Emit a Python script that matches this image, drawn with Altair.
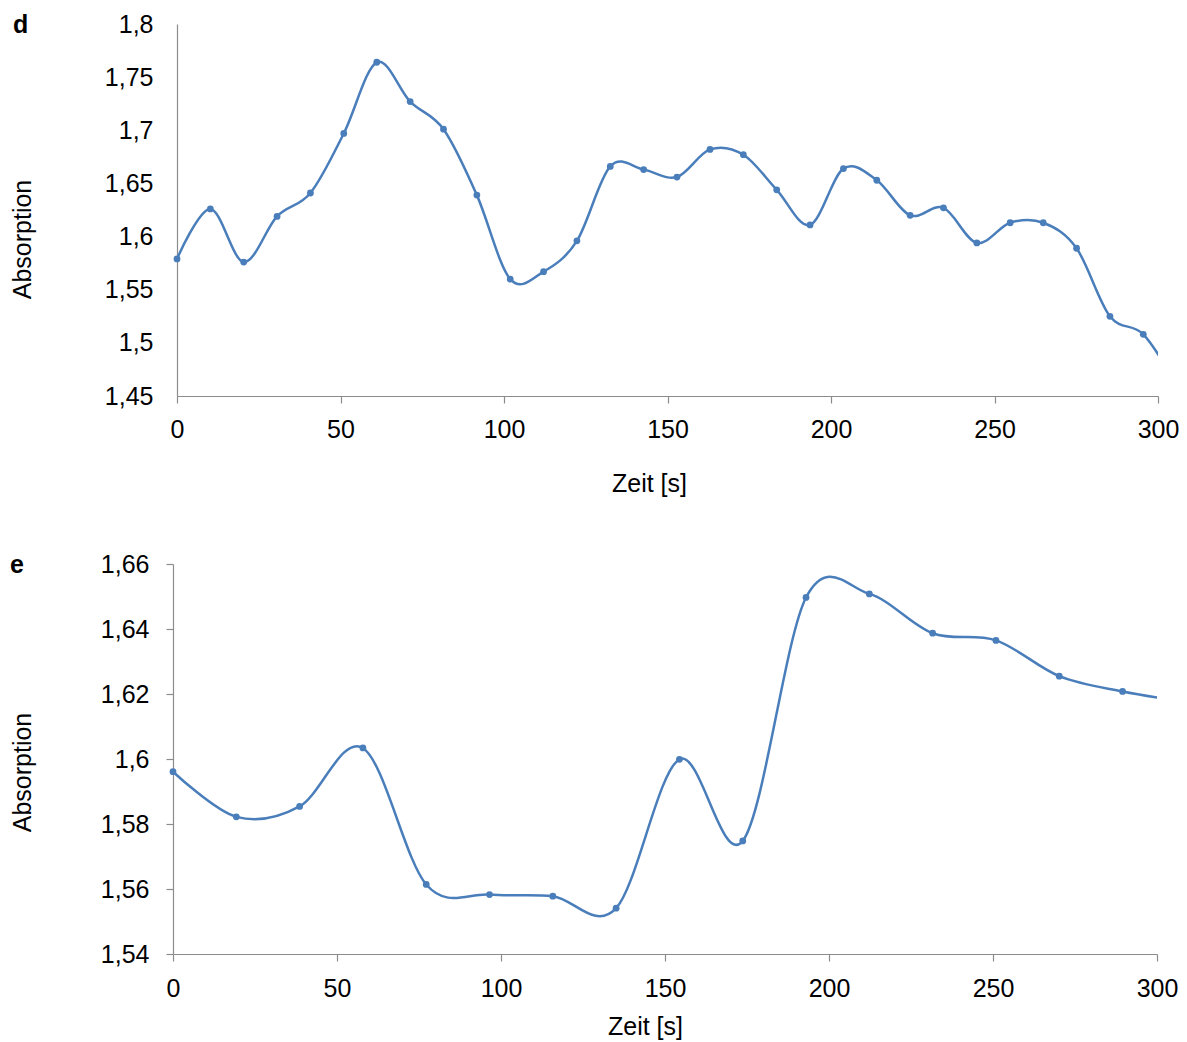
import altair as alt
import pandas as pd

# Panel d: absorption sampled about every 10.2 s
time_d = [0, 10.2, 20.4, 30.6, 40.8, 51.0, 61.1, 71.3, 81.5, 91.7, 101.9,
          112.1, 122.3, 132.5, 142.7, 152.9, 163.0, 173.2, 183.4, 193.6,
          203.8, 214.0, 224.2, 234.4, 244.6, 254.8, 264.9, 275.1, 285.3,
          295.5, 305.7]
abs_d = [1.579, 1.626, 1.576, 1.619, 1.641, 1.697, 1.764, 1.727, 1.701,
         1.639, 1.560, 1.567, 1.596, 1.666, 1.663, 1.656, 1.682, 1.677,
         1.644, 1.611, 1.664, 1.653, 1.620, 1.627, 1.594, 1.613, 1.613,
         1.589, 1.525, 1.508, 1.460]

# Panel e: absorption sampled about every 19.3 s
time_e = [0, 19.3, 38.6, 57.9, 77.2, 96.5, 115.8, 135.1, 154.4, 173.7,
          193.0, 212.3, 231.6, 250.9, 270.2, 289.5, 308.8]
abs_e = [1.5961, 1.5822, 1.5854, 1.6034, 1.5614, 1.5583, 1.5578, 1.5541,
         1.5999, 1.5748, 1.6497, 1.6508, 1.6387, 1.6365, 1.6255, 1.6208,
         1.6176]

x_ticks = [0, 50, 100, 150, 200, 250, 300]
y_ticks_d = [1.45, 1.5, 1.55, 1.6, 1.65, 1.7, 1.75, 1.8]
y_ticks_e = [1.54, 1.56, 1.58, 1.6, 1.62, 1.64, 1.66]

BLUE = "#4a7ebb"
GREY = "#8c8c8c"
FONT = "Liberation Sans"
comma = "replace(format(datum.value, '~g'), '.', ',')"


def panel(times, values, yticks, letter, width, height, y_tick_size,
          title_x, title_y, x_label_pad, x_title_pad, x_title_x, letter_x, inset):
    """One absorption panel; `inset` moves its plot area right within the cell."""
    df = pd.DataFrame({"t": times, "a": values})
    x = alt.X("t:Q", title="Zeit [s]",
              scale=alt.Scale(domain=[0, 300], range=[inset, width],
                              nice=False, zero=False),
              axis=alt.Axis(values=x_ticks, tickSize=7, labelPadding=x_label_pad,
                            labelFlush=False, titlePadding=x_title_pad, grid=False,
                            titleX=x_title_x))
    y = alt.Y("a:Q", title="Absorption",
              scale=alt.Scale(domain=[yticks[0], yticks[-1]], nice=False, zero=False),
              axis=alt.Axis(values=yticks, labelExpr=comma, grid=False,
                            labelFlush=False, offset=-inset,
                            ticks=y_tick_size > 0, tickSize=max(y_tick_size, 1),
                            labelPadding=24 - y_tick_size,
                            titleX=title_x, titleY=title_y, titleAngle=-90,
                            titleAlign="center", titleBaseline="middle"))
    line = alt.Chart(df).mark_line(
        interpolate="cardinal", tension=0, color=BLUE, strokeWidth=2.5, clip=True
    ).encode(x=x, y=y)
    pts = alt.Chart(df).transform_filter("datum.t <= 300").mark_circle(
        color=BLUE, size=46, opacity=1
    ).encode(x="t:Q", y="a:Q")
    lab = alt.Chart(pd.DataFrame({"p": [letter]})).mark_text(
        font=FONT, fontSize=25, fontWeight="bold", align="left",
        baseline="alphabetic", color="black"
    ).encode(text="p:N", x=alt.value(letter_x), y=alt.value(9))
    return alt.layer(line, pts, lab).properties(width=width, height=height)


top = panel(time_d, abs_d, y_ticks_d, "d", 985, 372, 0, -155, 215, 14, 29, 476, -160, 4)
bottom = panel(time_e, abs_e, y_ticks_e, "e", 984, 390, 7, -151, 208, 15, 13, 472, -163, 0)

chart = alt.concat(top, bottom, columns=1, spacing=56, align="none").resolve_scale(
    x="independent", y="independent"
).properties(
    padding={"left": 10, "top": 12, "right": 5, "bottom": 5}
).configure(
    font=FONT
).configure_view(
    stroke=None
).configure_axis(
    domainColor=GREY, tickColor=GREY, domainWidth=1.2, tickWidth=1.2,
    labelFont=FONT, titleFont=FONT, labelFontSize=25, titleFontSize=25,
    labelColor="black", titleColor="black", titleFontWeight="normal"
)

chart.save("out.html", embed_options={"renderer": "svg", "actions": False})
